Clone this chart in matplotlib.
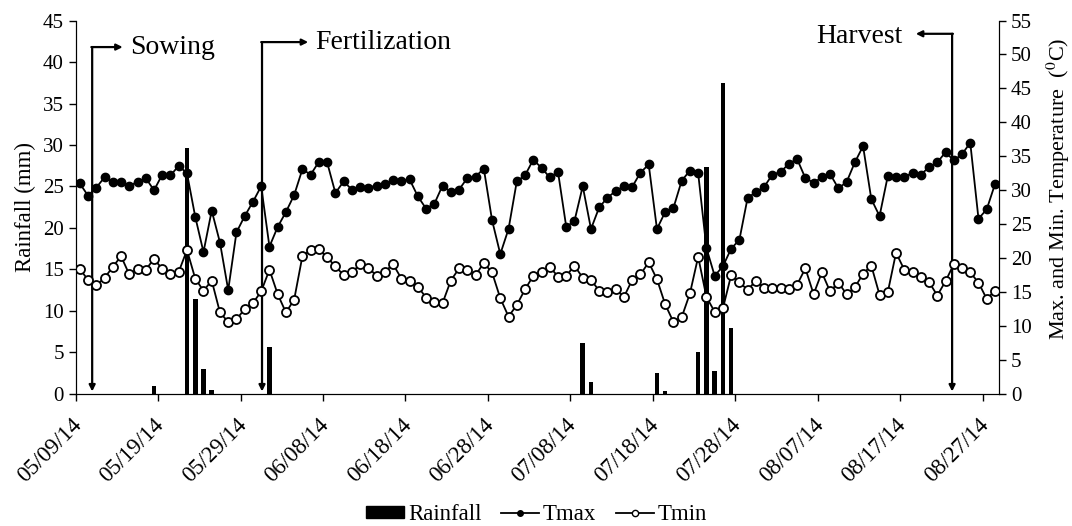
import numpy as np
import matplotlib
matplotlib.use("Agg")
import matplotlib.pyplot as plt
import matplotlib.transforms as mtransforms
from matplotlib.lines import Line2D
from matplotlib.patches import Patch

plt.rcParams["font.family"] = ["Liberation Serif", "DejaVu Serif"]
plt.rcParams["mathtext.fontset"] = "stix"

# ---------------------------------------------------------------------------
# data (daily, 05/09/14 .. 08/28/14)
# ---------------------------------------------------------------------------
tmax = [31.0, 29.2, 30.4, 31.9, 31.2, 31.2, 30.7, 31.2, 31.8, 30.0,
        32.3, 32.2, 33.6, 32.5, 26.1, 20.9, 27.0, 22.3, 15.3, 23.8,
        26.2, 28.3, 30.6, 21.7, 24.6, 26.8, 29.3, 33.1, 32.3, 34.2,
        34.1, 29.6, 31.3, 30.1, 30.5, 30.4, 30.7, 30.9, 31.5, 31.4,
        31.6, 29.1, 27.3, 28.0, 30.7, 29.7, 30.1, 31.8, 32.0, 33.2,
        25.6, 20.6, 24.3, 31.3, 32.2, 34.5, 33.3, 31.9, 32.7, 24.6,
        25.5, 30.6, 24.3, 27.5, 28.9, 29.9, 30.6, 30.5, 32.6, 33.8,
        24.3, 26.8, 27.4, 31.4, 32.9, 32.5, 21.5, 17.4, 18.8, 21.4,
        22.7, 28.9, 29.7, 30.5, 32.3, 32.7, 33.9, 34.6, 31.8, 31.1,
        31.9, 32.4, 30.3, 31.2, 34.1, 36.5, 28.7, 26.2, 32.1, 31.9,
        31.9, 32.6, 32.3, 33.4, 34.1, 35.6, 34.4, 35.3, 37.0, 25.8,
        27.2, 30.9]

tmin = [18.4, 16.8, 16.0, 17.1, 18.7, 20.3, 17.6, 18.4, 18.3, 19.9,
        18.4, 17.6, 18.0, 21.2, 17.0, 15.2, 16.7, 12.0, 10.6, 11.0,
        12.5, 13.4, 15.1, 18.3, 14.7, 12.0, 13.9, 20.3, 21.2, 21.3,
        20.1, 18.8, 17.5, 17.9, 19.1, 18.6, 17.4, 18.0, 19.1, 17.0,
        16.6, 15.8, 14.2, 13.6, 13.4, 16.7, 18.5, 18.3, 17.5, 19.3,
        17.9, 14.1, 11.4, 13.1, 15.4, 17.4, 17.9, 18.7, 17.3, 17.4,
        18.9, 17.1, 16.8, 15.2, 15.0, 15.4, 14.3, 16.8, 17.6, 19.4,
        16.9, 13.2, 10.6, 11.3, 14.8, 20.2, 14.3, 12.1, 12.6, 17.5,
        16.5, 15.3, 16.7, 15.6, 15.6, 15.6, 15.4, 16.1, 18.5, 14.7,
        17.9, 15.1, 16.4, 14.7, 15.7, 17.7, 18.9, 14.6, 15.0, 20.8,
        18.3, 17.9, 17.2, 16.5, 14.5, 16.6, 19.1, 18.6, 17.9, 16.4,
        14.0, 15.2]

# rainy days (index from 05/09/14) and amounts (mm)
rain_day = [9, 13, 14, 15, 16, 23, 61, 62, 70, 71, 75, 76, 77, 78, 79]
rain_mm = [1.0, 29.6, 11.4, 3.0, 0.5, 5.6, 6.1, 1.5, 2.5, 0.3,
           5.1, 27.4, 2.8, 37.5, 7.9]

tick_labels = ["05/09/14", "05/19/14", "05/29/14", "06/08/14", "06/18/14",
               "06/28/14", "07/08/14", "07/18/14", "07/28/14", "08/07/14",
               "08/17/14", "08/27/14"]

# crop events: name, day offset, arrow top (mm)
event_name = ["Sowing", "Fertilization", "Harvest"]
event_day = [2.0, 22.6, 106.3]
event_top = [41.8, 42.4, 43.4]
event_arrow_end = [5.7, 28.2, 101.9]

# ---------------------------------------------------------------------------
# plot
# ---------------------------------------------------------------------------
n_days = len(tmax)
x = np.arange(n_days) + 0.5

fig = plt.figure(figsize=(10.72, 5.26), dpi=100)
ax = fig.add_axes([0.0706, 0.251, 0.8614, 0.710])
ax2 = ax.twinx()

ax.bar(np.array(rain_day) + 0.5, rain_mm, width=0.55, color="black", zorder=2)

ax2.plot(x, tmax, "-o", color="black", lw=1.3, ms=6,
         mfc="black", mec="black", mew=1.0)
ax2.plot(x, tmin, "-o", color="black", lw=1.3, ms=6.5,
         mfc="white", mec="black", mew=1.3)

ax.set_xlim(0, n_days)
ax.set_ylim(0, 45)
ax2.set_ylim(0, 55)
ax.set_yticks(np.arange(0, 46, 5))
ax2.set_yticks(np.arange(0, 56, 5))
ax.set_xticks(np.arange(0, n_days, 10))
ax.set_xticklabels(tick_labels, rotation=45, ha="right", va="top",
                   fontsize=16.5)

for a in (ax, ax2):
    a.spines["top"].set_visible(False)
    a.tick_params(direction="out", length=5, width=1)
    a.tick_params(axis="y", labelsize=15)
ax.tick_params(axis="x", pad=10)

# Excel-style: rotated labels sit a little right of their tick
shift = mtransforms.ScaledTranslation(10 / 100, 0, fig.dpi_scale_trans)
for lab in ax.get_xticklabels():
    lab.set_transform(lab.get_transform() + shift)

ax.set_ylabel("Rainfall (mm)", fontsize=16.5, labelpad=5)
ax2.set_ylabel(r"Max. and Min. Temperature  ($^{0}$C)", fontsize=16)
ax2.yaxis.set_label_coords(1.049, 0.549)

# event arrows
arrow_kw = dict(arrowstyle="-|>", color="black", lw=1.6,
                mutation_scale=9, shrinkA=0, shrinkB=0)
for name, d, top, end in zip(event_name, event_day, event_top,
                             event_arrow_end):
    ax.annotate("", xy=(d, 0.3), xytext=(d, top), arrowprops=arrow_kw)
    ax.annotate("", xy=(end, top), xytext=(d - 0.1 if end > d else d + 0.1, top),
                arrowprops=arrow_kw)
    if end > d:
        ax.text(end + 0.9, top - 0.1, name, fontsize=20, ha="left",
                va="center")
    else:
        ax.text(end - 1.6, top - 0.3, name, fontsize=20, ha="right",
                va="center")

handles = [Patch(facecolor="black", edgecolor="black"),
           Line2D([], [], color="black", lw=1.3, marker="o", ms=4,
                  mfc="black"),
           Line2D([], [], color="black", lw=1.3, marker="o", ms=4.5,
                  mfc="white")]
fig.legend(handles, ["Rainfall", "Tmax", "Tmin"], loc="lower center",
           bbox_to_anchor=(0.5005, -0.038), ncol=3, frameon=False,
           fontsize=16.5, handlelength=1.66, handleheight=0.45,
           columnspacing=0.85, handletextpad=0.18)

fig.savefig("out.png", dpi=100)
